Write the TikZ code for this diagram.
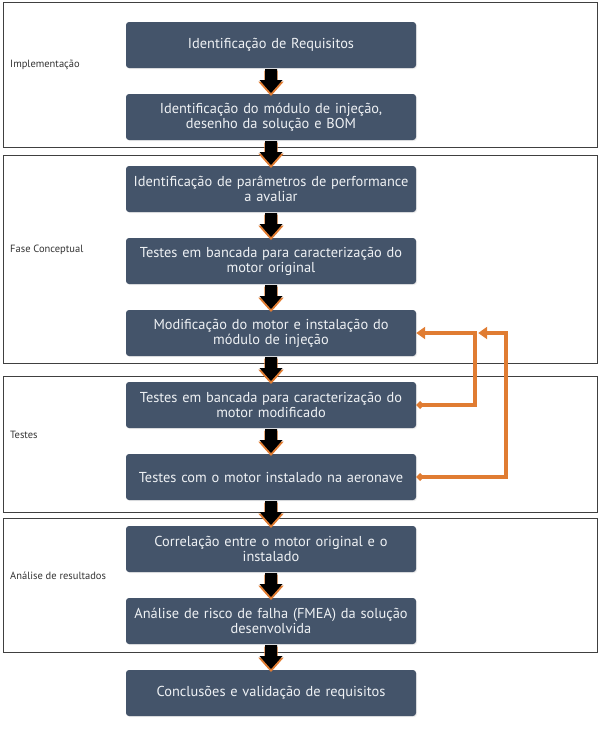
\documentclass[tikz,border=0pt]{standalone}
\usepackage{fontspec}
\setmainfont{PT Sans}
\usetikzlibrary{positioning,shadows,arrows.meta,calc}
\definecolor{boxblue}{HTML}{44546A}
\definecolor{fborange}{HTML}{E07C32}
\definecolor{boxtext}{HTML}{EEF1F4}
\tikzset{
BOX/.style={draw=none, fill=boxblue, rounded corners=3pt, minimum width=290pt, minimum height=46pt,
	text width=290pt, align=center, text=boxtext, inner sep=0pt,
	font=\fontsize{14.4}{15}\selectfont,
	drop shadow={shadow xshift=1pt, shadow yshift=-1pt, opacity=0.15}},
FRAME/.style={draw=black!75, line width=0.9pt},
PHASE/.style={anchor=west, inner sep=0pt, text=black!80, font=\fontsize{10.5}{12}\selectfont},
STEPARROW/.pic={
	\fill[fborange, yshift=-1.8pt, scale=1.1] (-6,-11) -- (6,-11) -- (6,-1) -- (11.5,-1) -- (0,12) -- (-11.5,-1) -- (-6,-1) -- cycle;
	\fill[black] (-6,-12) -- (6,-12) -- (6,-1) -- (11.5,-1) -- (0,12) -- (-11.5,-1) -- (-6,-1) -- cycle;
},
FEEDBACK/.style={draw=fborange, line width=3.5pt,
	arrows={Diamond[length=8pt,width=8pt]-Triangle[length=9pt,width=12pt]}},
}
\begin{document}
\begin{tikzpicture}[x=1pt,y=-1pt, node distance=25.6pt]
	\useasboundingbox (0,0) rectangle (600,729);
	%Phases
	\draw[FRAME] (3,2) rectangle (597,147);
	\draw[FRAME] (3,155) rectangle (597,363);
	\draw[FRAME] (3,376) rectangle (597,512);
	\draw[FRAME] (3,518) rectangle (597,652);
	\node[PHASE] (ph1) at (10,65) {Implementação};
	\node[PHASE] (ph2) at (10,250) {Fase Conceptual};
	\node[PHASE] (ph3) at (10,435) {Testes};
	\node[PHASE] (ph4) at (10,576) {Análise de resultados};
	%Steps
	\node[BOX] (b1) at (271,45) {Identificação de Requisitos};
	\node[BOX, below=of b1] (b2) {Identificação do módulo de injeção,\\ desenho da solução e BOM};
	\node[BOX, below=of b2] (b3) {Identificação de parâmetros de performance\\ a avaliar};
	\node[BOX, below=of b3] (b4) {Testes em bancada para caracterização do\\ motor original};
	\node[BOX, below=of b4] (b5) {Modificação do motor e instalação do\\ módulo de injeção};
	\node[BOX, below=of b5] (b6) {Testes em bancada para caracterização do\\ motor modificado};
	\node[BOX, below=of b6] (b7) {Testes com o motor instalado na aeronave};
	\node[BOX, below=of b7] (b8) {Correlação entre o motor original e o\\ instalado};
	\node[BOX, below=of b8] (b9) {Análise de risco de falha (FMEA) da solução\\ desenvolvida};
	\node[BOX, below=of b9] (b10) {Conclusões e validação de requisitos};
	%Flow arrows
	\foreach \i/\j in {1/2,2/3,3/4,4/5,5/6,6/7,7/8,8/9,9/10}{
		\coordinate (arr\i) at ($(b\i.south)!0.5!(b\j.north)$);
		\pic at (arr\i) {STEPARROW};
	}
	%Feedback loops
	\coordinate (fbtip) at ($(b5.east)+(62,0)$);
	\draw[FEEDBACK] (b6.east) -- ++(59,0) |- (b5.east);
	\draw[FEEDBACK] (b7.east) -- ++(90,0) |- (fbtip);
\end{tikzpicture}
\end{document}
